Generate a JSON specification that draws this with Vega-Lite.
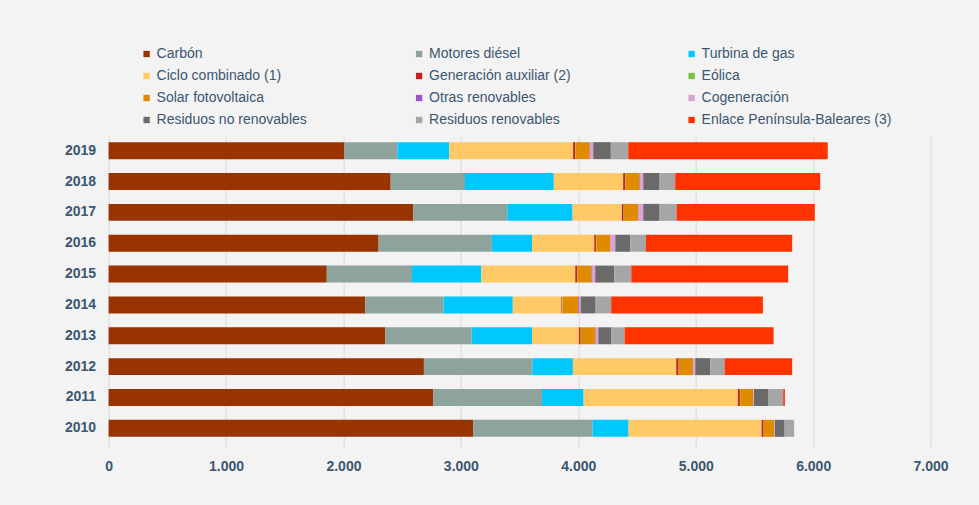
{
  "$schema": "https://vega.github.io/schema/vega-lite/v6.json",
  "autosize": {"type": "none"},
  "width": 822,
  "height": 307,
  "padding": {"left": 108.6, "top": 136, "right": 48.4, "bottom": 62},
  "background": "#f3f3f3",
  "config": {
    "view": {"stroke": null},
    "font": "Liberation Sans",
    "axis": {"labelFont": "Liberation Sans", "labelColor": "#3b5670", "labelFontSize": 14, "labelFontWeight": "bold"},
    "legend": {"labelFont": "Liberation Sans", "labelColor": "#3b5670", "labelFontSize": 14}
  },
  "datasets": {
    "fuentes": [
      {"fuente": "Carbón", "orden": 1},
      {"fuente": "Motores diésel", "orden": 2},
      {"fuente": "Turbina de gas", "orden": 3},
      {"fuente": "Ciclo combinado (1)", "orden": 4},
      {"fuente": "Generación auxiliar (2)", "orden": 5},
      {"fuente": "Eólica", "orden": 6},
      {"fuente": "Solar fotovoltaica", "orden": 7},
      {"fuente": "Otras renovables", "orden": 8},
      {"fuente": "Cogeneración", "orden": 9},
      {"fuente": "Residuos no renovables", "orden": 10},
      {"fuente": "Residuos renovables", "orden": 11},
      {"fuente": "Enlace Península-Baleares (3)", "orden": 12}
    ]
  },
  "data": {
    "values": [
      {"year": "2019", "fuente": "Carbón", "valor": 2005},
      {"year": "2019", "fuente": "Motores diésel", "valor": 455},
      {"year": "2019", "fuente": "Turbina de gas", "valor": 441},
      {"year": "2019", "fuente": "Ciclo combinado (1)", "valor": 1055},
      {"year": "2019", "fuente": "Generación auxiliar (2)", "valor": 17},
      {"year": "2019", "fuente": "Eólica", "valor": 3},
      {"year": "2019", "fuente": "Solar fotovoltaica", "valor": 120},
      {"year": "2019", "fuente": "Otras renovables", "valor": 3},
      {"year": "2019", "fuente": "Cogeneración", "valor": 28},
      {"year": "2019", "fuente": "Residuos no renovables", "valor": 150},
      {"year": "2019", "fuente": "Residuos renovables", "valor": 148},
      {"year": "2019", "fuente": "Enlace Península-Baleares (3)", "valor": 1699},
      {"year": "2018", "fuente": "Carbón", "valor": 2402},
      {"year": "2018", "fuente": "Motores diésel", "valor": 633},
      {"year": "2018", "fuente": "Turbina de gas", "valor": 756},
      {"year": "2018", "fuente": "Ciclo combinado (1)", "valor": 591},
      {"year": "2018", "fuente": "Generación auxiliar (2)", "valor": 18},
      {"year": "2018", "fuente": "Eólica", "valor": 3},
      {"year": "2018", "fuente": "Solar fotovoltaica", "valor": 119},
      {"year": "2018", "fuente": "Otras renovables", "valor": 3},
      {"year": "2018", "fuente": "Cogeneración", "valor": 28},
      {"year": "2018", "fuente": "Residuos no renovables", "valor": 139},
      {"year": "2018", "fuente": "Residuos renovables", "valor": 133},
      {"year": "2018", "fuente": "Enlace Península-Baleares (3)", "valor": 1235},
      {"year": "2017", "fuente": "Carbón", "valor": 2594},
      {"year": "2017", "fuente": "Motores diésel", "valor": 802},
      {"year": "2017", "fuente": "Turbina de gas", "valor": 555},
      {"year": "2017", "fuente": "Ciclo combinado (1)", "valor": 420},
      {"year": "2017", "fuente": "Generación auxiliar (2)", "valor": 15},
      {"year": "2017", "fuente": "Eólica", "valor": 3},
      {"year": "2017", "fuente": "Solar fotovoltaica", "valor": 121},
      {"year": "2017", "fuente": "Otras renovables", "valor": 3},
      {"year": "2017", "fuente": "Cogeneración", "valor": 40},
      {"year": "2017", "fuente": "Residuos no renovables", "valor": 139},
      {"year": "2017", "fuente": "Residuos renovables", "valor": 145},
      {"year": "2017", "fuente": "Enlace Península-Baleares (3)", "valor": 1177},
      {"year": "2016", "fuente": "Carbón", "valor": 2299},
      {"year": "2016", "fuente": "Motores diésel", "valor": 964},
      {"year": "2016", "fuente": "Turbina de gas", "valor": 343},
      {"year": "2016", "fuente": "Ciclo combinado (1)", "valor": 530},
      {"year": "2016", "fuente": "Generación auxiliar (2)", "valor": 14},
      {"year": "2016", "fuente": "Eólica", "valor": 3},
      {"year": "2016", "fuente": "Solar fotovoltaica", "valor": 119},
      {"year": "2016", "fuente": "Otras renovables", "valor": 3},
      {"year": "2016", "fuente": "Cogeneración", "valor": 40},
      {"year": "2016", "fuente": "Residuos no renovables", "valor": 127},
      {"year": "2016", "fuente": "Residuos renovables", "valor": 134},
      {"year": "2016", "fuente": "Enlace Península-Baleares (3)", "valor": 1245},
      {"year": "2015", "fuente": "Carbón", "valor": 1858},
      {"year": "2015", "fuente": "Motores diésel", "valor": 726},
      {"year": "2015", "fuente": "Turbina de gas", "valor": 590},
      {"year": "2015", "fuente": "Ciclo combinado (1)", "valor": 800},
      {"year": "2015", "fuente": "Generación auxiliar (2)", "valor": 17},
      {"year": "2015", "fuente": "Eólica", "valor": 3},
      {"year": "2015", "fuente": "Solar fotovoltaica", "valor": 119},
      {"year": "2015", "fuente": "Otras renovables", "valor": 8},
      {"year": "2015", "fuente": "Cogeneración", "valor": 23},
      {"year": "2015", "fuente": "Residuos no renovables", "valor": 162},
      {"year": "2015", "fuente": "Residuos renovables", "valor": 145},
      {"year": "2015", "fuente": "Enlace Península-Baleares (3)", "valor": 1336},
      {"year": "2014", "fuente": "Carbón", "valor": 2186},
      {"year": "2014", "fuente": "Motores diésel", "valor": 666},
      {"year": "2014", "fuente": "Turbina de gas", "valor": 590},
      {"year": "2014", "fuente": "Ciclo combinado (1)", "valor": 410},
      {"year": "2014", "fuente": "Generación auxiliar (2)", "valor": 6},
      {"year": "2014", "fuente": "Eólica", "valor": 8},
      {"year": "2014", "fuente": "Solar fotovoltaica", "valor": 134},
      {"year": "2014", "fuente": "Otras renovables", "valor": 10},
      {"year": "2014", "fuente": "Cogeneración", "valor": 10},
      {"year": "2014", "fuente": "Residuos no renovables", "valor": 127},
      {"year": "2014", "fuente": "Residuos renovables", "valor": 133},
      {"year": "2014", "fuente": "Enlace Península-Baleares (3)", "valor": 1292},
      {"year": "2013", "fuente": "Carbón", "valor": 2357},
      {"year": "2013", "fuente": "Motores diésel", "valor": 735},
      {"year": "2013", "fuente": "Turbina de gas", "valor": 514},
      {"year": "2013", "fuente": "Ciclo combinado (1)", "valor": 399},
      {"year": "2013", "fuente": "Generación auxiliar (2)", "valor": 15},
      {"year": "2013", "fuente": "Eólica", "valor": 3},
      {"year": "2013", "fuente": "Solar fotovoltaica", "valor": 124},
      {"year": "2013", "fuente": "Otras renovables", "valor": 3},
      {"year": "2013", "fuente": "Cogeneración", "valor": 20},
      {"year": "2013", "fuente": "Residuos no renovables", "valor": 113},
      {"year": "2013", "fuente": "Residuos renovables", "valor": 111},
      {"year": "2013", "fuente": "Enlace Península-Baleares (3)", "valor": 1269},
      {"year": "2012", "fuente": "Carbón", "valor": 2685},
      {"year": "2012", "fuente": "Motores diésel", "valor": 924},
      {"year": "2012", "fuente": "Turbina de gas", "valor": 345},
      {"year": "2012", "fuente": "Ciclo combinado (1)", "valor": 880},
      {"year": "2012", "fuente": "Generación auxiliar (2)", "valor": 20},
      {"year": "2012", "fuente": "Eólica", "valor": 3},
      {"year": "2012", "fuente": "Solar fotovoltaica", "valor": 119},
      {"year": "2012", "fuente": "Otras renovables", "valor": 3},
      {"year": "2012", "fuente": "Cogeneración", "valor": 17},
      {"year": "2012", "fuente": "Residuos no renovables", "valor": 127},
      {"year": "2012", "fuente": "Residuos renovables", "valor": 123},
      {"year": "2012", "fuente": "Enlace Península-Baleares (3)", "valor": 575},
      {"year": "2011", "fuente": "Carbón", "valor": 2764},
      {"year": "2011", "fuente": "Motores diésel", "valor": 927},
      {"year": "2011", "fuente": "Turbina de gas", "valor": 354},
      {"year": "2011", "fuente": "Ciclo combinado (1)", "valor": 1314},
      {"year": "2011", "fuente": "Generación auxiliar (2)", "valor": 17},
      {"year": "2011", "fuente": "Eólica", "valor": 2},
      {"year": "2011", "fuente": "Solar fotovoltaica", "valor": 111},
      {"year": "2011", "fuente": "Otras renovables", "valor": 2},
      {"year": "2011", "fuente": "Cogeneración", "valor": 5},
      {"year": "2011", "fuente": "Residuos no renovables", "valor": 124},
      {"year": "2011", "fuente": "Residuos renovables", "valor": 125},
      {"year": "2011", "fuente": "Enlace Península-Baleares (3)", "valor": 14},
      {"year": "2010", "fuente": "Carbón", "valor": 3104},
      {"year": "2010", "fuente": "Motores diésel", "valor": 1018},
      {"year": "2010", "fuente": "Turbina de gas", "valor": 306},
      {"year": "2010", "fuente": "Ciclo combinado (1)", "valor": 1133},
      {"year": "2010", "fuente": "Generación auxiliar (2)", "valor": 17},
      {"year": "2010", "fuente": "Eólica", "valor": 2},
      {"year": "2010", "fuente": "Solar fotovoltaica", "valor": 88},
      {"year": "2010", "fuente": "Otras renovables", "valor": 2},
      {"year": "2010", "fuente": "Cogeneración", "valor": 4},
      {"year": "2010", "fuente": "Residuos no renovables", "valor": 83},
      {"year": "2010", "fuente": "Residuos renovables", "valor": 81},
      {"year": "2010", "fuente": "Enlace Península-Baleares (3)", "valor": 0}
    ]
  },
  "transform": [
    {"lookup": "fuente", "from": {"data": {"name": "fuentes"}, "key": "fuente", "fields": ["orden"]}}
  ],
  "mark": {"type": "bar"},
  "encoding": {
    "y": {
      "field": "year", "type": "nominal", "sort": "descending",
      "scale": {"paddingInner": 0.45, "paddingOuter": 0.2},
      "axis": {"title": null, "ticks": false, "domain": false, "labelPadding": 13, "grid": false}
    },
    "x": {
      "field": "valor", "type": "quantitative", "stack": "zero",
      "scale": {"domain": [0, 7000], "nice": false},
      "axis": {
        "title": null, "values": [0, 1000, 2000, 3000, 4000, 5000, 6000, 7000],
        "labelExpr": "replace(format(datum.value, ','), ',', '.')",
        "labelFlush": false,
        "domain": false, "grid": true, "gridColor": "#d9d9d9", "gridWidth": 1,
        "ticks": true, "tickColor": "#d0d0d0", "tickSize": 4, "labelPadding": 12
      }
    },
    "order": {"field": "orden", "type": "quantitative", "sort": "ascending"},
    "color": {
      "field": "fuente", "type": "nominal",
      "scale": {
        "domain": ["Carbón", "Motores diésel", "Turbina de gas", "Ciclo combinado (1)", "Generación auxiliar (2)", "Eólica", "Solar fotovoltaica", "Otras renovables", "Cogeneración", "Residuos no renovables", "Residuos renovables", "Enlace Península-Baleares (3)"],
        "range": ["#993300", "#8ea39b", "#00c8ff", "#ffca66", "#c8201e", "#7cc142", "#e08a00", "#9b55c8", "#d9a3d6", "#6a6a6a", "#a6a6a6", "#ff3300"]
      },
      "legend": {
        "title": null, "orient": "none", "legendX": 31, "legendY": -89,
        "direction": "horizontal", "columns": 3, "gridAlign": "all", "columnPadding": 65.5, "rowPadding": 8,
        "symbolType": "square", "symbolSize": 40, "symbolStrokeWidth": 0,
        "labelOffset": 3, "labelLimit": 400
      }
    }
  }
}
